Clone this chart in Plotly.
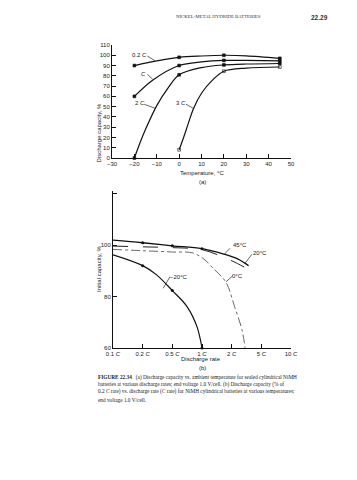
import plotly.graph_objects as go

W, H = 357, 480

# ---------------- (a) Discharge capacity vs temperature ----------------
temp_ticks = [-30, -20, -10, 0, 10, 20, 30, 40, 50]
cap_ticks = [0, 10, 20, 30, 40, 50, 60, 70, 80, 90, 100, 110]

# curve readings (smooth curves)
c02_temp = [-20, -10, 0, 10, 20, 30, 45]
c02_cap = [90, 94.5, 98, 99.3, 100, 99.5, 97]
c1_temp = [-20, -12, 0, 10, 20, 30, 45]
c1_cap = [60, 75.5, 90, 93.5, 95, 95, 94.5]
c2_temp = [-20, -17, -15, -10, -5, 0, 10, 20, 30, 45]
c2_cap = [0, 17.5, 28, 51, 68, 81, 88, 90.6, 91.5, 92]
c3_temp = [0, 2, 4, 6.4, 10, 15, 20, 30, 45]
c3_cap = [8, 20, 33, 48, 63, 76, 84.5, 87.5, 88.6]

# measured points (markers)
m02_temp = [-20, 0, 20, 45]
m02_cap = [90, 98, 100, 97]
m1_temp = [-20, 0, 20, 45]
m1_cap = [60, 90, 95, 94.5]
m2_temp = [-20, 0, 20, 45]
m2_cap = [0, 81, 90.6, 92]
m3_temp = [0, 20, 45]
m3_cap = [8, 84.5, 88.6]

# ---------------- (b) Initial capacity vs discharge rate ----------------
rate_labels = ["0.1 <i>C</i>", "0.2 <i>C</i>", "0.5 <i>C</i>", "1 <i>C</i>",
               "2 <i>C</i>", "5 <i>C</i>", "10 <i>C</i>"]
rate_pos = [0, 1, 2, 3, 4, 5, 6]
init_ticks = [60, 80, 100, 120]
init_ticktext = ["60", "80", "100", ""]

t45_x = [0, 1, 2, 3, 3.76, 4.2, 4.57]
t45_y = [101.9, 100.9, 99.7, 98.6, 96.4, 94.6, 92.0]
t20_x = [0, 1, 2, 3, 3.76, 4.2, 4.67]
t20_y = [99.6, 99.3, 99.0, 98.2, 95.1, 92.8, 89.8]
t0_x = [0, 1, 2, 2.7, 3.1, 3.37, 3.8, 4.1, 4.35, 4.45]
t0_y = [98.3, 97.8, 97.3, 96.9, 94.2, 91.0, 85.7, 76.0, 67.0, 60.0]
tm20_x = [0, 1, 1.46, 2, 2.5, 2.83, 3]
tm20_y = [96.2, 92.0, 88.5, 82.3, 76.0, 68.3, 60.0]

m45_x = [1, 2, 3]
m45_y = [100.9, 99.7, 98.6]
mm20_x = [1, 2, 3]
mm20_y = [92.0, 82.3, 60.0]


def px(x):
    return x / W


def py(y):
    return 1 - y / H


fig = go.Figure()

LINE = dict(color="#111", width=1.2)

# top curves
for tx, ty in [(c02_temp, c02_cap), (c1_temp, c1_cap), (c2_temp, c2_cap), (c3_temp, c3_cap)]:
    fig.add_trace(go.Scatter(x=tx, y=ty, mode="lines", line=dict(LINE, shape="spline", smoothing=0.9),
                             xaxis="x", yaxis="y", cliponaxis=False, showlegend=False, hoverinfo="skip"))
for tx, ty, sym in [(m02_temp, m02_cap, "square"), (m1_temp, m1_cap, "square"),
                    (m2_temp, m2_cap, "square"), (m3_temp, m3_cap, "square-open")]:
    fig.add_trace(go.Scatter(x=tx, y=ty, mode="markers",
                             marker=dict(symbol=sym, size=2.8, color="#111", line=dict(color="#111", width=0.6)),
                             xaxis="x", yaxis="y", cliponaxis=False, showlegend=False))

# bottom curves
fig.add_trace(go.Scatter(x=t45_x, y=t45_y, mode="lines", line=dict(color="#111", width=1.3, shape="spline"),
                         xaxis="x2", yaxis="y2", cliponaxis=False, showlegend=False))
fig.add_trace(go.Scatter(x=t20_x, y=t20_y, mode="lines",
                         line=dict(color="#222", width=1.0, dash="longdash", shape="spline"),
                         xaxis="x2", yaxis="y2", cliponaxis=False, showlegend=False))
fig.add_trace(go.Scatter(x=t0_x, y=t0_y, mode="lines",
                         line=dict(color="#444", width=0.8, dash="dashdot", shape="spline"),
                         xaxis="x2", yaxis="y2", cliponaxis=False, showlegend=False))
fig.add_trace(go.Scatter(x=tm20_x, y=tm20_y, mode="lines", line=dict(color="#111", width=1.2, shape="spline"),
                         xaxis="x2", yaxis="y2", cliponaxis=False, showlegend=False))
fig.add_trace(go.Scatter(x=m45_x, y=m45_y, mode="markers", marker=dict(size=3, color="#111"),
                         xaxis="x2", yaxis="y2", cliponaxis=False, showlegend=False))
fig.add_trace(go.Scatter(x=mm20_x, y=mm20_y, mode="markers", marker=dict(size=3, color="#111"),
                         xaxis="x2", yaxis="y2", cliponaxis=False, showlegend=False))

TICKF = dict(family="Liberation Sans, Arial, sans-serif", size=6, color="#222")
axis_common = dict(showline=True, linecolor="#111", linewidth=1, showgrid=False, zeroline=False,
                   ticks="inside", ticklen=4, tickwidth=1, tickcolor="#111", tickfont=TICKF,
                   automargin=False, fixedrange=True)

fig.update_layout(
    width=W, height=H, margin=dict(l=0, r=0, t=0, b=0, pad=0),
    paper_bgcolor="white", plot_bgcolor="white",
    xaxis=dict(axis_common, domain=[px(112), px(291)], range=[-30, 50], tickvals=temp_ticks, anchor="y"),
    yaxis=dict(axis_common, domain=[py(158), py(45)], range=[0, 110], tickvals=cap_ticks, anchor="x"),
    xaxis2=dict(axis_common, domain=[px(113), px(291)], range=[0, 6], tickvals=rate_pos,
                ticktext=rate_labels, anchor="y2"),
    yaxis2=dict(axis_common, domain=[py(348), py(191)], range=[60, 121], tickvals=init_ticks,
                ticktext=init_ticktext, anchor="x2"),
)

LAB = dict(family="Liberation Sans, Arial, sans-serif", size=6, color="#222")
ann = []
# axis titles
ann.append(dict(text="Temperature, °C", x=px(202), y=py(172.5), xref="paper", yref="paper",
                showarrow=False, font=LAB))
ann.append(dict(text="(a)", x=px(202), y=py(182.5), xref="paper", yref="paper", showarrow=False, font=LAB))
ann.append(dict(text="Discharge capacity, %", x=px(93.5), y=py(101), xref="paper", yref="paper",
                showarrow=False, font=LAB, textangle=-90))
ann.append(dict(text="Discharge rate", x=px(201), y=py(363.5), xref="paper", yref="paper",
                showarrow=False, font=LAB))
ann.append(dict(text="(b)", x=px(202), y=py(372.7), xref="paper", yref="paper", showarrow=False, font=LAB))
ann.append(dict(text="Initial capacity, %", x=px(94), y=py(269), xref="paper", yref="paper",
                showarrow=False, font=LAB, textangle=-90))

# curve labels (a)
for t, x, y in [("0.2 <i>C</i>", -17.6, 100.6), ("<i>C</i>", -16.0, 81.8),
                ("2 <i>C</i>", -17.6, 53.3), ("3 <i>C</i>", 0.9, 53.3)]:
    ann.append(dict(text=t, x=x, y=y, xref="x", yref="y", showarrow=False, font=LAB))
# curve labels (b)
for t, x, y in [("45°C", 4.27, 100.0), ("20°C", 4.97, 96.8), ("0°C", 4.21, 88.0), ("−20°C", 2.23, 87.7)]:
    ann.append(dict(text=t, x=x, y=y, xref="x2", yref="y2", showarrow=False, font=LAB))

# header
ann.append(dict(text="NICKEL-METAL HYDRIDE BATTERIES", x=px(263), y=py(12), xref="paper", yref="paper",
                showarrow=False, font=dict(family="Liberation Serif, serif", size=4.8, color="#333")))
ann.append(dict(text="<b>22.29</b>", x=px(330), y=py(12), xref="paper", yref="paper",
                showarrow=False, font=dict(family="Liberation Sans, Arial, sans-serif", size=6.5, color="#333")))

# caption
cap_lines = [
    "<b>FIGURE 22.34</b>   (a) Discharge capacity vs. ambient temperature for sealed cylindrical NiMH",
    "batteries at various discharge rates; end voltage 1.0 V/cell. (b) Discharge capacity (% of",
    "0.2 <i>C</i> rate) vs. discharge rate (<i>C</i> rate) for NiMH cylindrical batteries at various temperatures;",
    "end voltage 1.0 V/cell.",
]
for i, line in enumerate(cap_lines):
    ann.append(dict(text=line, x=px(96), y=py(382.5 + i * 7.4), xref="paper", yref="paper",
                    xanchor="left", showarrow=False,
                    font=dict(family="Liberation Serif, serif", size=5.3, color="#222")))

fig.update_layout(annotations=ann)

# leader lines
shapes = []
for x0, y0, x1, y1 in [(-14.2, 99.3, -10.8, 94.7), (-14.2, 81.5, -11.8, 76.6),
                       (-15.6, 52.3, -10.8, 48.4), (3.1, 52.3, 6.3, 48.4)]:
    shapes.append(dict(type="line", xref="x", yref="y", x0=x0, y0=y0, x1=x1, y1=y1,
                       line=dict(color="#222", width=0.7)))
for x0, y0, x1, y1 in [(3.75, 96.4, 3.94, 98.7), (4.45, 92.9, 4.68, 96.4),
                       (3.81, 85.7, 4.03, 88.0), (1.69, 83.2, 1.92, 87.7)]:
    shapes.append(dict(type="line", xref="x2", yref="y2", x0=x0, y0=y0, x1=x1, y1=y1,
                       line=dict(color="#222", width=0.7)))
fig.update_layout(shapes=shapes)

fig.write_html("out.html", config={"displayModeBar": False},
               post_script="document.body.style.margin='0px';")
